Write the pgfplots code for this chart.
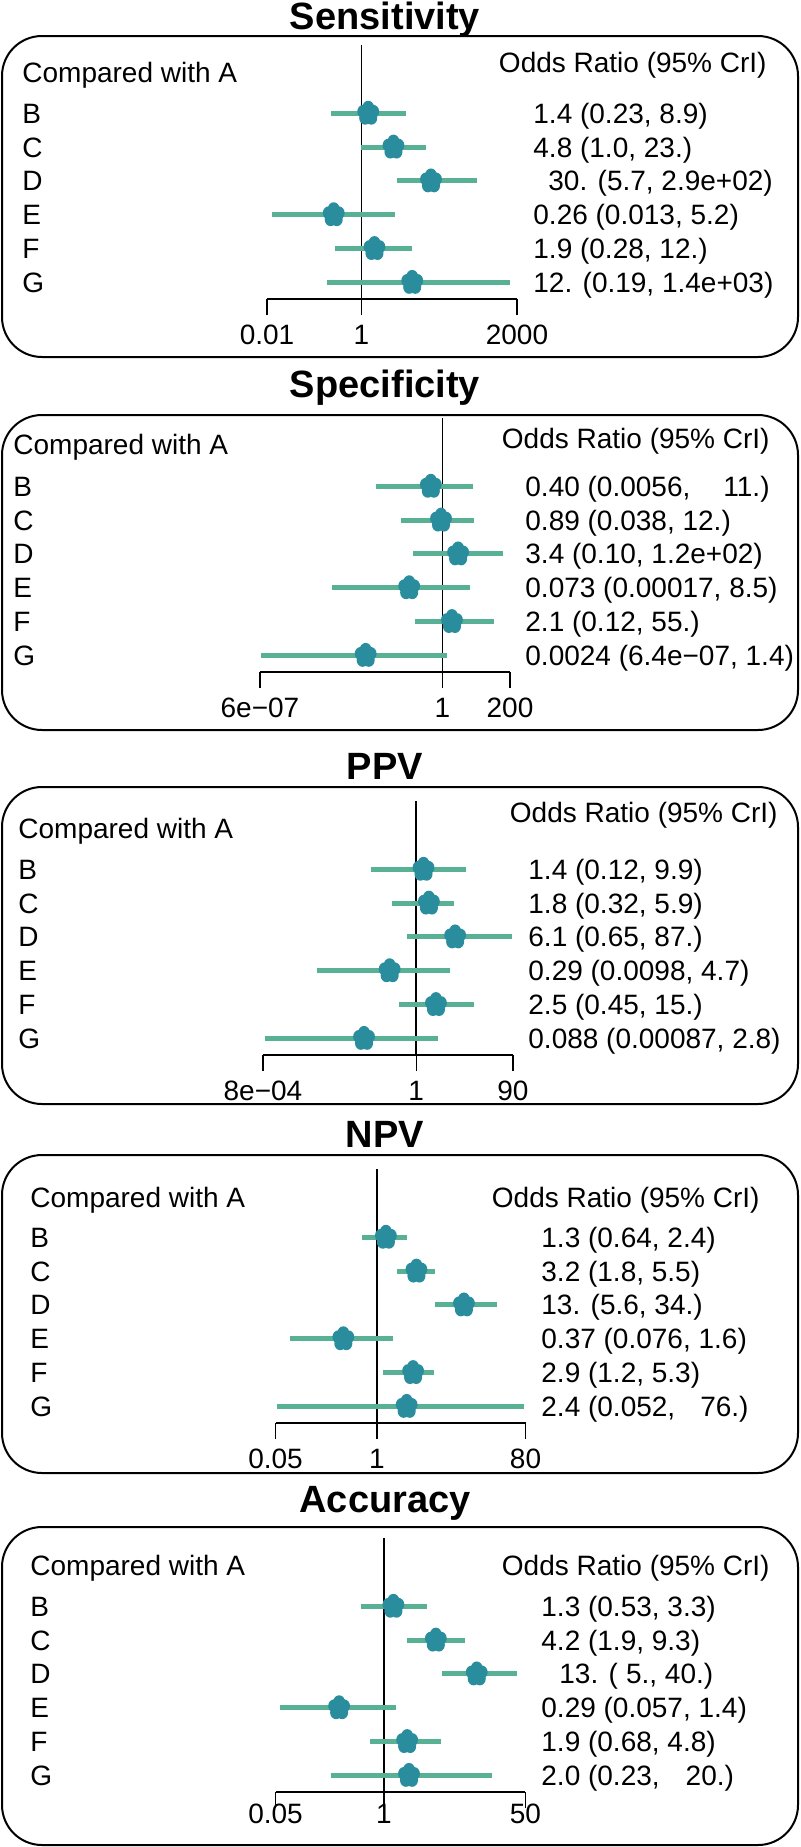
\documentclass[border=0pt]{standalone}
\usepackage{pgfplots}
\pgfplotsset{compat=1.18}
\usepackage{fontspec}
\setmainfont{Liberation Sans}
\definecolor{ciline}{HTML}{58B195}
\definecolor{blobc}{HTML}{2A8D9D}

\pgfdeclareplotmark{blob}{%
  \pgftransformyscale{1.12}%
  \pgfpathcircle{\pgfpointorigin}{0.72\pgfplotmarksize}%
  \pgfpathcircle{\pgfpointpolar{90}{0.46\pgfplotmarksize}}{0.52\pgfplotmarksize}%
  \pgfpathcircle{\pgfpointpolar{162}{0.46\pgfplotmarksize}}{0.52\pgfplotmarksize}%
  \pgfpathcircle{\pgfpointpolar{234}{0.46\pgfplotmarksize}}{0.52\pgfplotmarksize}%
  \pgfpathcircle{\pgfpointpolar{306}{0.46\pgfplotmarksize}}{0.52\pgfplotmarksize}%
  \pgfpathcircle{\pgfpointpolar{18}{0.46\pgfplotmarksize}}{0.52\pgfplotmarksize}%
  \pgfusepathqfill
}

\pgfplotsset{
  myforest/.style={
    scale only axis, width=125pt, height=127pt, anchor=south west,
    ymin=0.51, ymax=8.02,
    axis x line*=bottom, axis y line=none,
    clip=false,
    tick align=outside, major tick length=8pt,
    ytick=\empty,
    x axis line style={line width=0.75pt, black},
    xtick style={line width=0.75pt, black},
    tick label style={font=\fontsize{14pt}{16pt}\selectfont},
    xticklabel style={anchor=base, inner sep=0pt, yshift=-14.5pt},
  },
}
\tikzset{
  cil/.style={ciline, line width=2.5pt, line cap=butt},
  blm/.style={only marks, mark=blob, mark size=5.7pt, blobc},
  refl/.style={black, line width=0.8pt},
  txt/.style={font=\fontsize{14pt}{16pt}\selectfont, inner sep=0pt},
  ttl/.style={font=\bfseries\fontsize{19pt}{22pt}\selectfont, inner sep=0pt, anchor=base},
  bx/.style={line width=1pt, rounded corners=20pt},
}

% #1 axis line y (px), #2 row label x, #3 value text x, #4..#9 texts B..G
\newcommand\panelrows[9]{%
  \foreach \v/\lab in {6/B,5/C,4/D,3/E,2/F,1/G}{%
    \node[txt,anchor=base west] at (#2,{#1-(\v-0.51)*33.82+10}) {\lab};}
  \node[txt,anchor=base west] at (#3,{#1-(6-0.51)*33.82+10}) {#4};
  \node[txt,anchor=base west] at (#3,{#1-(5-0.51)*33.82+10}) {#5};
  \node[txt,anchor=base west] at (#3,{#1-(4-0.51)*33.82+10}) {#6};
  \node[txt,anchor=base west] at (#3,{#1-(3-0.51)*33.82+10}) {#7};
  \node[txt,anchor=base west] at (#3,{#1-(2-0.51)*33.82+10}) {#8};
  \node[txt,anchor=base west] at (#3,{#1-(1-0.51)*33.82+10}) {#9};
}

\begin{document}
\begin{tikzpicture}[x=0.5pt,y=-0.5pt]
\path[use as bounding box] (0,0) rectangle (800,1847);

% ---------------- Panel 1: Sensitivity ----------------
\node[ttl] at (385,29) {Sensitivity};
\draw[bx] (2,36) rectangle (798,357);
\node[txt,anchor=base west] at (22,82) {Compared with A};
\node[txt,anchor=base east] at (767,72) {Odds Ratio (95\% CrI)};
\panelrows{299}{22}{533}{1.4 (0.23, 8.9)}{4.8 (1.0, 23.)}{\hspace{7.5pt}30. (5.7, 2.9e+02)}{0.26 (0.013, 5.2)}{1.9 (0.28, 12.)}{12. (0.19, 1.4e+03)}
\begin{axis}[myforest, xmode=log, at={(133.5pt,-149.5pt)}, xmin=0.01, xmax=2000,
  xtick={0.01,1,2000}, xticklabels={0.01,1,2000}]
\addplot[refl] coordinates {(1,0.51) (1,8.02)};
\addplot[cil] coordinates {(0.23,6) (8.9,6)};
\addplot[cil] coordinates {(1.0,5) (23,5)};
\addplot[cil] coordinates {(5.7,4) (290,4)};
\addplot[cil] coordinates {(0.013,3) (5.2,3)};
\addplot[cil] coordinates {(0.28,2) (12,2)};
\addplot[cil] coordinates {(0.19,1) (1400,1)};
\addplot[blm] coordinates {(1.4,6) (4.8,5) (30,4) (0.26,3) (1.9,2) (12,1)};
\end{axis}

% ---------------- Panel 2: Specificity ----------------
\node[ttl] at (385,397) {Specificity};
\draw[bx] (2,415) rectangle (798,730);
\node[txt,anchor=base west] at (13,454) {Compared with A};
\node[txt,anchor=base east] at (770,448) {Odds Ratio (95\% CrI)};
\panelrows{672}{13}{525}{0.40 (0.0056,\hspace{16.5pt}11.)}{0.89 (0.038, 12.)}{3.4 (0.10, 1.2e+02)}{0.073 (0.00017, 8.5)}{2.1 (0.12, 55.)}{0.0024 (6.4e−07, 1.4)}
\begin{axis}[myforest, xmode=log, at={(130pt,-336pt)}, xmin=6e-7, xmax=200,
  xtick={6e-7,1,200}, xticklabels={6e−07,1,200}]
\addplot[refl] coordinates {(1,0.51) (1,8.02)};
\addplot[cil] coordinates {(0.0056,6) (11,6)};
\addplot[cil] coordinates {(0.038,5) (12,5)};
\addplot[cil] coordinates {(0.10,4) (120,4)};
\addplot[cil] coordinates {(0.00017,3) (8.5,3)};
\addplot[cil] coordinates {(0.12,2) (55,2)};
\addplot[cil] coordinates {(6.4e-7,1) (1.4,1)};
\addplot[blm] coordinates {(0.40,6) (0.89,5) (3.4,4) (0.073,3) (2.1,2) (0.0024,1)};
\end{axis}

% ---------------- Panel 3: PPV ----------------
\node[ttl] at (385,779) {PPV};
\draw[bx] (2,787) rectangle (798,1104);
\node[txt,anchor=base west] at (18,838) {Compared with A};
\node[txt,anchor=base east] at (778,822) {Odds Ratio (95\% CrI)};
\panelrows{1055}{18}{528}{1.4 (0.12, 9.9)}{1.8 (0.32, 5.9)}{6.1 (0.65, 87.)}{0.29 (0.0098, 4.7)}{2.5 (0.45, 15.)}{0.088 (0.00087, 2.8)}
\begin{axis}[myforest, xmode=log, at={(131.5pt,-527.5pt)}, xmin=8e-4, xmax=90,
  xtick={8e-4,1,90}, xticklabels={8e−04,1,90}]
\addplot[refl] coordinates {(1,0.51) (1,8.02)};
\addplot[cil] coordinates {(0.12,6) (9.9,6)};
\addplot[cil] coordinates {(0.32,5) (5.9,5)};
\addplot[cil] coordinates {(0.65,4) (87,4)};
\addplot[cil] coordinates {(0.0098,3) (4.7,3)};
\addplot[cil] coordinates {(0.45,2) (15,2)};
\addplot[cil] coordinates {(0.00087,1) (2.8,1)};
\addplot[blm] coordinates {(1.4,6) (1.8,5) (6.1,4) (0.29,3) (2.5,2) (0.088,1)};
\end{axis}

% ---------------- Panel 4: NPV ----------------
\node[ttl] at (385,1147) {NPV};
\draw[bx] (2,1155) rectangle (798,1473);
\node[txt,anchor=base west] at (30,1207) {Compared with A};
\node[txt,anchor=base east] at (760,1207) {Odds Ratio (95\% CrI)};
\panelrows{1423}{30}{541}{1.3 (0.64, 2.4)}{3.2 (1.8, 5.5)}{13. (5.6, 34.)}{0.37 (0.076, 1.6)}{2.9 (1.2, 5.3)}{2.4 (0.052,\hspace{12.5pt}76.)}
\begin{axis}[myforest, xmode=log, at={(137.75pt,-711.5pt)}, xmin=0.05, xmax=80,
  xtick={0.05,1,80}, xticklabels={0.05,1,80}]
\addplot[refl] coordinates {(1,0.51) (1,8.02)};
\addplot[cil] coordinates {(0.64,6) (2.4,6)};
\addplot[cil] coordinates {(1.8,5) (5.5,5)};
\addplot[cil] coordinates {(5.6,4) (34,4)};
\addplot[cil] coordinates {(0.076,3) (1.6,3)};
\addplot[cil] coordinates {(1.2,2) (5.3,2)};
\addplot[cil] coordinates {(0.052,1) (76,1)};
\addplot[blm] coordinates {(1.3,6) (3.2,5) (13,4) (0.37,3) (2.9,2) (2.4,1)};
\end{axis}

% ---------------- Panel 5: Accuracy ----------------
\node[ttl] at (385,1512) {Accuracy};
\draw[bx] (2,1527) rectangle (798,1845);
\node[txt,anchor=base west] at (30,1575) {Compared with A};
\node[txt,anchor=base east] at (770,1575) {Odds Ratio (95\% CrI)};
\panelrows{1792}{30}{541}{1.3 (0.53, 3.3)}{4.2 (1.9, 9.3)}{\hspace{9pt}13. (\hspace{4pt}5., 40.)}{0.29 (0.057, 1.4)}{1.9 (0.68, 4.8)}{2.0 (0.23,\hspace{13pt}20.)}
\begin{axis}[myforest, xmode=log, at={(137.75pt,-896pt)}, xmin=0.05, xmax=50,
  xtick={0.05,1,50}, xticklabels={0.05,1,50},
  xticklabel style={yshift=7pt}]
\addplot[refl] coordinates {(1,0.51) (1,8.02)};
\addplot[cil] coordinates {(0.53,6) (3.3,6)};
\addplot[cil] coordinates {(1.9,5) (9.3,5)};
\addplot[cil] coordinates {(5,4) (40,4)};
\addplot[cil] coordinates {(0.057,3) (1.4,3)};
\addplot[cil] coordinates {(0.68,2) (4.8,2)};
\addplot[cil] coordinates {(0.23,1) (20,1)};
\addplot[blm] coordinates {(1.3,6) (4.2,5) (13,4) (0.29,3) (1.9,2) (2.0,1)};
\end{axis}
\end{tikzpicture}
\end{document}
